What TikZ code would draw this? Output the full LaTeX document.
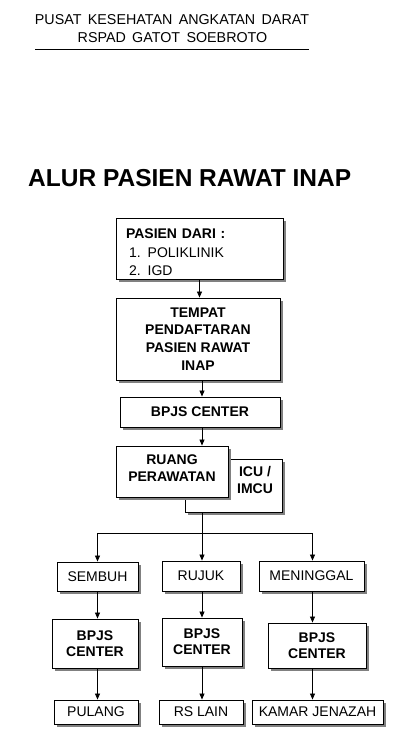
\documentclass[tikz,border=0pt]{standalone}
\usepackage{fontspec}
\setmainfont{Liberation Sans}
\usetikzlibrary{arrows.meta,shadows}
\begin{document}
\begin{tikzpicture}[x=1pt,y=-1pt,
  box/.style={draw=black, line width=0.9pt, fill=white, inner sep=0pt,
    drop shadow={shadow xshift=2.5pt, shadow yshift=-2.5pt, fill=black!50, opacity=1},
    font=\fontsize{14}{17.5}\selectfont, align=center},
  bbox/.style={box, font=\fontsize{14}{17.7}\selectfont\bfseries},
  arr/.style={-{Triangle[length=6pt,width=5pt]}, line width=0.8pt},
  ln/.style={line width=0.8pt}]
\useasboundingbox (0,0) rectangle (401,741);
% header
\node[font=\fontsize{14.3}{16}\selectfont] (h1) at (172,20) {PUSAT\ \,KESEHATAN\ \,ANGKATAN\ \,DARAT};
\node[font=\fontsize{14.3}{16}\selectfont] (h2) at (172.5,38) {RSPAD\ \,GATOT\ \,SOEBROTO};
\coordinate (ul1) at (35,50);
\coordinate (ul2) at (309,50);
\draw[line width=1pt] (ul1) -- (ul2);
\node[font=\fontsize{24.5}{28}\selectfont\bfseries, anchor=west, inner sep=0pt] (title) at (28,178) {ALUR PASIEN RAWAT INAP};
% boxes
\node[box, minimum width=167pt, minimum height=61pt] (b1) at (199.5,248.5) {};
\node[text width=147pt, align=left, inner sep=0pt,
  font=\fontsize{14}{18.5}\selectfont] (b1t) at (199.5,252.5)
  {\textbf{PASIEN DARI :}\\\hspace*{3pt}1. POLIKLINIK\\\hspace*{3pt}2. IGD};
\node[bbox, minimum width=164pt, minimum height=82pt] (b2) at (198,339)
  {TEMPAT\\PENDAFTARAN\\PASIEN RAWAT\\INAP};
\node[bbox, minimum width=160pt, minimum height=30pt] (b3) at (200,412) {BPJS CENTER};
\node[box, minimum width=97pt, minimum height=53pt] (icu) at (233.5,485.5) {};
\node[font=\fontsize{14}{16.5}\selectfont\bfseries, align=center] (icut) at (255,480) {ICU /\\IMCU};
\node[box, minimum width=112pt, minimum height=51pt] (b4) at (172,471.5) {};
\node[font=\fontsize{14}{16.5}\selectfont\bfseries, align=center] (b4t) at (172,468) {RUANG\\PERAWATAN};
% split
\coordinate (j) at (202,533);
\coordinate (jl) at (97.5,533);
\coordinate (jr) at (312.5,533);
\draw[ln] (j |- icu.south) -- (j);
\draw[ln] (jl) -- (jr);
% row 2
\node[box, minimum width=81pt, minimum height=29pt] (s1) at (97.5,576.5) {SEMBUH};
\node[box, minimum width=78pt, minimum height=30pt] (s2) at (201,576) {RUJUK};
\node[box, minimum width=105pt, minimum height=30pt] (s3) at (311.5,576) {MENINGGAL};
% row 3
\node[bbox, minimum width=86pt, minimum height=49pt, font=\fontsize{14}{16}\selectfont\bfseries] (c1) at (95,643.5) {BPJS\\CENTER};
\node[bbox, minimum width=80pt, minimum height=48pt, font=\fontsize{14}{16}\selectfont\bfseries] (c2) at (202,642) {BPJS\\CENTER};
\node[bbox, minimum width=98pt, minimum height=45pt, font=\fontsize{14}{16}\selectfont\bfseries] (c3) at (317,645.5) {BPJS\\CENTER};
% row 4
\node[box, minimum width=84pt, minimum height=24pt] (e1) at (96,712) {PULANG};
\node[box, minimum width=84pt, minimum height=24pt] (e2) at (201,712) {RS LAIN};
\node[box, minimum width=131pt, minimum height=24pt] (e3) at (317.5,712) {KAMAR JENAZAH};
% arrows
\draw[arr] (b1.south) -- (b1.south |- b2.north);
\draw[arr] (202,0 |- b2.south) -- (202,0 |- b3.north);
\draw[arr] (202,0 |- b3.south) -- (202,0 |- b4.north);
\draw[arr] (jl) -- (jl |- s1.north);
\draw[arr] (j) -- (j |- s2.north);
\draw[arr] (jr) -- (jr |- s3.north);
\draw[arr] (97.5,0 |- s1.south) -- (97.5,0 |- c1.north);
\draw[arr] (202,0 |- s2.south) -- (202,0 |- c2.north);
\draw[arr] (312.5,0 |- s3.south) -- (312.5,0 |- c3.north);
\draw[arr] (97.5,0 |- c1.south) -- (97.5,0 |- e1.north);
\draw[arr] (202,0 |- c2.south) -- (202,0 |- e2.north);
\draw[arr] (312.5,0 |- c3.south) -- (312.5,0 |- e3.north);
\end{tikzpicture}
\end{document}
